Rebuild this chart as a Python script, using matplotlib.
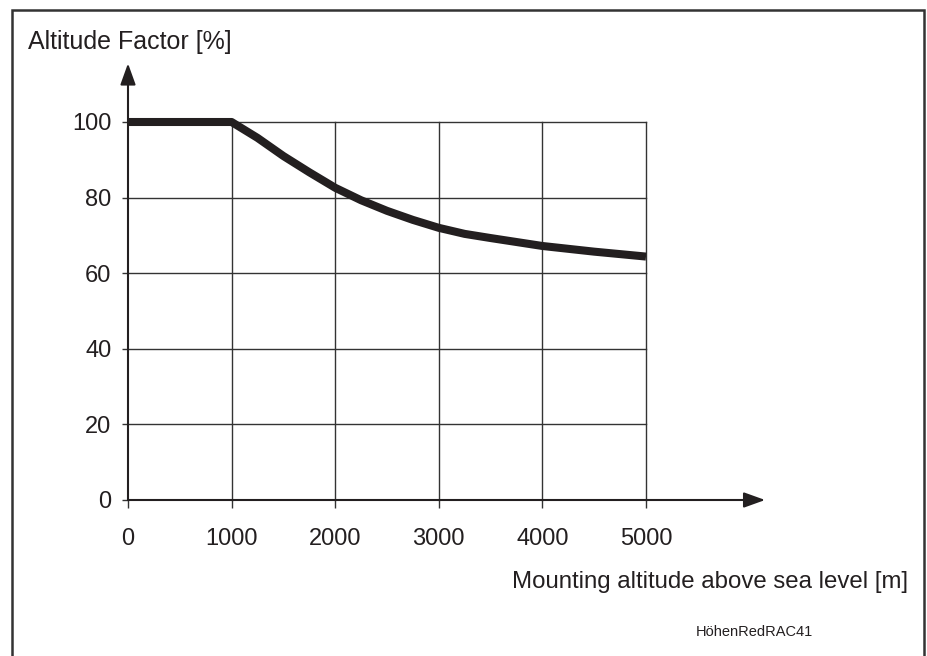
import matplotlib
matplotlib.use("Agg")
import matplotlib.pyplot as plt
from matplotlib.patches import Rectangle

plt.rcParams['font.family'] = ['Liberation Sans', 'DejaVu Sans']

# values
altitude = [0, 1000, 1250, 1500, 1750, 2000, 2250, 2500, 2750, 3000,
            3250, 3500, 4000, 4500, 5000]
factor = [100, 100, 95.8, 91.0, 86.7, 82.6, 79.3, 76.5, 74.1, 72.0,
          70.4, 69.3, 67.2, 65.7, 64.4]
x_ticks = [0, 1000, 2000, 3000, 4000, 5000]
y_ticks = [0, 20, 40, 60, 80, 100]

W, H = 928, 656
dark = '#231f20'

fig = plt.figure(figsize=(W / 100, H / 100), dpi=100)
# axes box in pixels: x 128..646, y 122..500
ax = fig.add_axes([128 / W, (H - 500) / H, (646 - 128) / W, (500 - 122) / H])
ax.set_xlim(0, 5000)
ax.set_ylim(0, 100)

for s in ax.spines.values():
    s.set_visible(False)

# grid
for xv in x_ticks[1:]:
    ax.plot([xv, xv], [0, 100], color='#333333', lw=1.0, zorder=1, clip_on=False)
for yv in y_ticks[1:]:
    ax.plot([0, 5000], [yv, yv], color='#333333', lw=1.0, zorder=1, clip_on=False)

# axes with arrows
ax.annotate('', xy=(6150, 0), xytext=(0, 0), annotation_clip=False,
            arrowprops=dict(arrowstyle='-|>,head_length=1.0,head_width=0.36',
                            mutation_scale=13, lw=1.5, color=dark,
                            shrinkA=0, shrinkB=0))
ax.annotate('', xy=(0, 115.5), xytext=(0, 0), annotation_clip=False,
            arrowprops=dict(arrowstyle='-|>,head_length=1.0,head_width=0.36',
                            mutation_scale=13, lw=1.5, color=dark,
                            shrinkA=0, shrinkB=0))

# curve
ax.plot(altitude, factor, color=dark, lw=5.8, solid_capstyle='butt',
        solid_joinstyle='round', zorder=3, clip_on=False)

ax.set_xticks(x_ticks)
ax.set_yticks(y_ticks)
ax.set_xticklabels([str(v) for v in x_ticks])
ax.set_yticklabels([str(v) for v in y_ticks])
ax.tick_params(axis='x', length=6, width=1.0, color='#333333', pad=14,
               labelsize=17, labelcolor=dark)
ax.tick_params(axis='y', length=4, width=1.0, color='#333333', pad=8,
               labelsize=17, labelcolor=dark)

fig.text(28 / W, 1 - 42 / H, 'Altitude Factor [%]', fontsize=18,
         color=dark, ha='left', va='center')
fig.text(908 / W, 1 - 582 / H, 'Mounting altitude above sea level [m]',
         fontsize=17.3, color=dark, ha='right', va='center')
fig.text(754 / W, 1 - 632 / H, 'HöhenRedRAC41', fontsize=10.5,
         color=dark, ha='center', va='center')

# outer frame
fig.patches.append(Rectangle((12 / W, -0.02), (924 - 12) / W, 1 - 10 / H + 0.02,
                             transform=fig.transFigure, fill=False,
                             lw=1.8, edgecolor='#333333'))

fig.savefig('out.png', dpi=100)
